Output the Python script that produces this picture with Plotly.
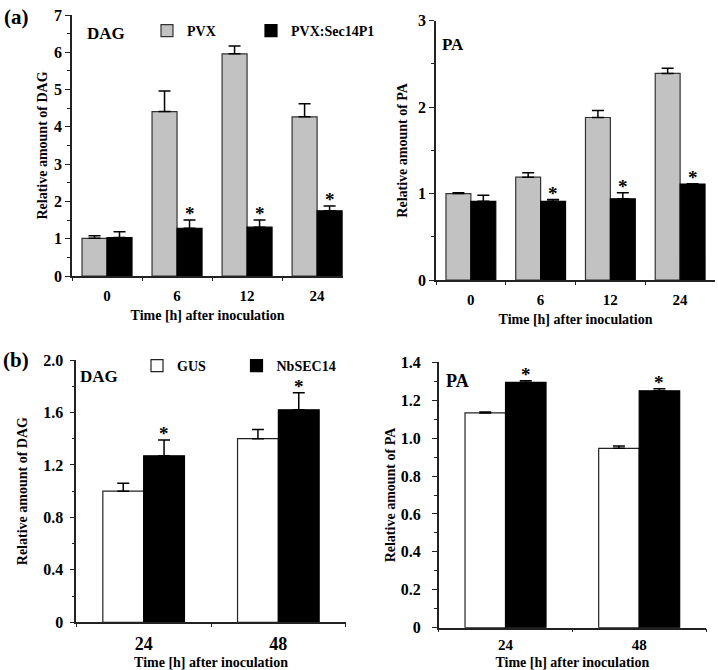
import plotly.graph_objects as go

# ---------------- data ----------------
time_a = ["0", "6", "12", "24"]
dag_a_pvx = [1.01, 4.41, 5.96, 4.27]
dag_a_pvx_err = [0.07, 0.55, 0.21, 0.35]
dag_a_sec = [1.03, 1.28, 1.31, 1.75]
dag_a_sec_err = [0.16, 0.22, 0.19, 0.13]

pa_a_pvx = [1.00, 1.19, 1.88, 2.39]
pa_a_pvx_err = [0.01, 0.05, 0.08, 0.06]
pa_a_sec = [0.91, 0.91, 0.94, 1.11]
pa_a_sec_err = [0.07, 0.02, 0.07, 0.004]

time_b = ["24", "48"]
dag_b_gus = [1.00, 1.40]
dag_b_gus_err = [0.06, 0.07]
dag_b_sec = [1.27, 1.62]
dag_b_sec_err = [0.12, 0.13]

pa_b_gus = [1.133, 0.946]
pa_b_gus_err = [0.005, 0.012]
pa_b_sec = [1.294, 1.250]
pa_b_sec_err = [0.009, 0.011]

yt_dag_a = [0, 1, 2, 3, 4, 5, 6, 7]
yt_pa_a = [0, 1, 2, 3]
yt_dag_b = [0, 0.4, 0.8, 1.2, 1.6, 2.0]
yt_dag_b_text = ["0", "0.4", "0.8", "1.2", "1.6", "2.0"]
yt_pa_b = [0, 0.2, 0.4, 0.6, 0.8, 1.0, 1.2, 1.4]
yt_pa_b_text = ["0", "0.2", "0.4", "0.6", "0.8", "1.0", "1.2", "1.4"]

# ---------------- style ----------------
FONT = "Liberation Serif"
GRAY = "#c2c2c2"
W_A = 0.357
W_B = 0.303
PW, PH = 718, 670

fig = go.Figure()


def err(vals):
    return dict(type="data", symmetric=False, array=vals, arrayminus=[0] * len(vals),
                color="black", thickness=1.5, width=6)


def add_pair(cats, v1, e1, v2, e2, xa, ya, c1, n1, n2, w, leg1, leg2, show):
    fig.add_trace(go.Bar(x=cats, y=v1, error_y=err(e1), width=w, offset=-w,
                         marker=dict(color=c1, line=dict(color="#333333" if c1 != "white" else "#222222", width=1.2)),
                         name=n1, xaxis=xa, yaxis=ya, legend=leg1, showlegend=show))
    fig.add_trace(go.Bar(x=cats, y=v2, error_y=err(e2), width=w, offset=0,
                         marker=dict(color="black", line=dict(color="black", width=1.2)),
                         name=n2, xaxis=xa, yaxis=ya, legend=leg2, showlegend=show))


add_pair(time_a, dag_a_pvx, dag_a_pvx_err, dag_a_sec, dag_a_sec_err, "x", "y", GRAY,
         "PVX", "PVX:Sec14P1", W_A, "legend", "legend2", True)
add_pair(time_a, pa_a_pvx, pa_a_pvx_err, pa_a_sec, pa_a_sec_err, "x2", "y2", GRAY,
         "PVX", "PVX:Sec14P1", W_A, "legend", "legend2", False)
add_pair(time_b, dag_b_gus, dag_b_gus_err, dag_b_sec, dag_b_sec_err, "x3", "y3", "white",
         "GUS", "NbSEC14", W_B, "legend3", "legend4", True)
add_pair(time_b, pa_b_gus, pa_b_gus_err, pa_b_sec, pa_b_sec_err, "x4", "y4", "white",
         "GUS", "NbSEC14", W_B, "legend3", "legend4", False)

# asterisks above significant black bars
ann = []


def stars(idx, vals, errs, xr, yr, w):
    for i in idx:
        ann.append(dict(x=i + w / 2, y=vals[i] + errs[i], xref=xr, yref=yr, text="*",
                        showarrow=False, yanchor="bottom", yshift=-6,
                        font=dict(family=FONT, size=19, color="black", weight="bold")))


stars([1, 2, 3], dag_a_sec, dag_a_sec_err, "x", "y", W_A)
stars([1, 2, 3], pa_a_sec, pa_a_sec_err, "x2", "y2", W_A)
stars([0, 1], dag_b_sec, dag_b_sec_err, "x3", "y3", W_B)
stars([0, 1], pa_b_sec, pa_b_sec_err, "x4", "y4", W_B)

# panel labels
labels = [("(a)", 2 / PW, 1 - 17 / PH, 21), ("(b)", 1 / PW, 1 - 360 / PH, 21)]
for t, x, y, s in labels:
    ann.append(dict(x=x, y=y, xref="paper", yref="paper", text=t, showarrow=False,
                    xanchor="left", yanchor="middle",
                    font=dict(family=FONT, size=s, color="black", weight="bold")))
inner = [("DAG", "x domain", "y domain", 0.047, 0.93, 17),
         ("PA", "x2 domain", "y2 domain", 0.015, 0.91, 17),
         ("DAG", "x3 domain", "y3 domain", 0.005, 0.937, 17),
         ("PA", "x4 domain", "y4 domain", 0.02, 0.93, 18)]
for t, xr, yr, x, y, s in inner:
    ann.append(dict(x=x, y=y, xref=xr, yref=yr, text=t, showarrow=False,
                    xanchor="left", yanchor="middle",
                    font=dict(family=FONT, size=s, color="black", weight="bold")))

titlefont = dict(family=FONT, size=14, color="black", weight="bold")


def xaxis(domain, rng, anchor, size=15, lstand=3, tstand=9):
    return dict(domain=domain, range=rng, anchor=anchor, type="category", automargin=False,
                showline=True, linecolor="#222222", linewidth=1.5,
                ticks="outside", tickson="boundaries", ticklen=3, tickcolor="#222222",
                ticklabelstandoff=lstand,
                showgrid=False, zeroline=False,
                tickfont=dict(family=FONT, size=size, color="black", weight="bold"),
                title=dict(text="Time [h] after inoculation", font=titlefont, standoff=tstand))


def yaxis(domain, rng, anchor, tv, tt, minor, title, size=15, lstand=0, tstand=8):
    return dict(domain=domain, range=rng, anchor=anchor, automargin=False,
                showline=True, linecolor="#222222", linewidth=1.5,
                ticks="outside", ticklen=5, tickcolor="#222222", tickwidth=1.3,
                tickvals=tv, ticktext=tt, ticklabelstandoff=lstand,
                minor=dict(dtick=minor, ticks="outside", ticklen=3, tickcolor="#222222", showgrid=False),
                showgrid=False, zeroline=False,
                tickfont=dict(family=FONT, size=size, color="black", weight="bold"),
                title=dict(text=title, font=titlefont, standoff=tstand))


def legend(xpix, ypix):
    return dict(orientation="h", x=xpix / PW, y=1 - ypix / PH, xanchor="left", yanchor="middle",
                bgcolor="rgba(0,0,0,0)",
                font=dict(family=FONT, size=14, color="black", weight="bold"))


fig.update_layout(
    width=PW, height=PH,
    margin=dict(l=0, r=0, t=0, b=0),
    paper_bgcolor="white", plot_bgcolor="white",
    barmode="overlay",
    font=dict(family=FONT, color="black"),
    xaxis=xaxis([72 / PW, 343 / PW], [-0.5, 3.37], "y", lstand=5, tstand=7),
    yaxis=yaxis([1 - 276 / PH, 1 - 15 / PH], [0, 7], "x", yt_dag_a,
                [str(v) for v in yt_dag_a], 0.5, "Relative amount of DAG", size=16, tstand=3),
    xaxis2=xaxis([436 / PW, 715 / PW], [-0.5, 3.5], "y2", lstand=5, tstand=7),
    yaxis2=yaxis([1 - 280 / PH, 1 - 20.7 / PH], [0, 3], "x2", yt_pa_a,
                 [str(v) for v in yt_pa_a], 0.5, "Relative amount of PA", size=16, tstand=7),
    xaxis3=xaxis([76.3 / PW, 345.7 / PW], [-0.5, 1.5], "y3", size=18, lstand=4, tstand=5),
    yaxis3=yaxis([1 - 622.3 / PH, 1 - 360 / PH], [0, 2.0], "x3", yt_dag_b,
                 yt_dag_b_text, 0.2, "Relative amount of DAG", size=16, lstand=3, tstand=12),
    xaxis4=xaxis([438.7 / PW, 706 / PW], [-0.5, 1.5], "y4", size=15, lstand=3, tstand=5),
    yaxis4=yaxis([1 - 627.7 / PH, 1 - 362.3 / PH], [0, 1.4], "x4", yt_pa_b,
                 yt_pa_b_text, 0.1, "Relative amount of PA", size=16, lstand=8, tstand=2),
    legend=legend(147, 31),
    legend2=legend(251, 31),
    legend3=legend(137, 366),
    legend4=legend(236.5, 366),
    annotations=ann,
)

fig.write_html("out.html", config={"displayModeBar": False},
               post_script="document.body.style.margin='0';document.body.style.padding='0';")
